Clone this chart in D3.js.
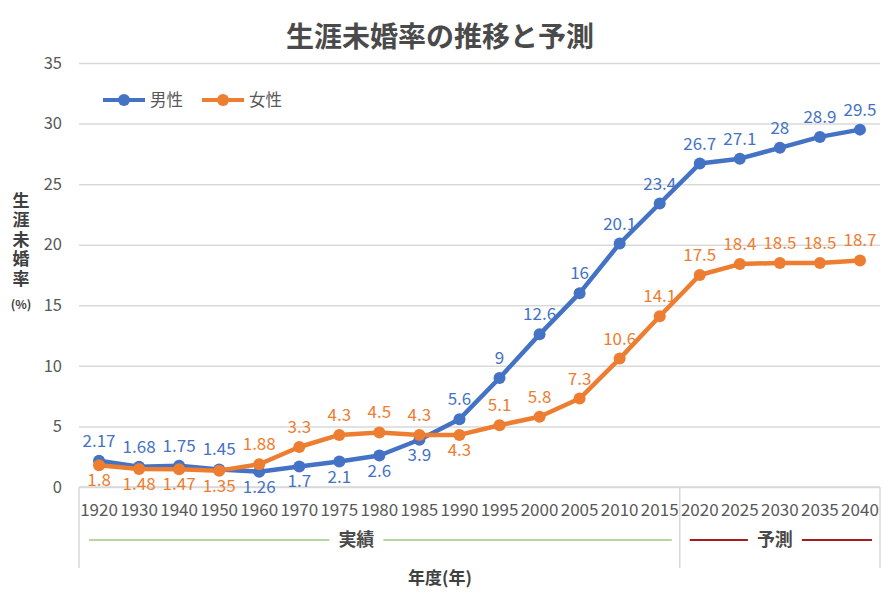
<!DOCTYPE html>
<html>
<head>
<meta charset="utf-8">
<script src="https://cdn.jsdelivr.net/npm/d3@7"></script>
<style>
  body { margin: 0; background: #fff; }
  svg text { font-family: "Noto Sans CJK JP", "Noto Sans", sans-serif; }
</style>
</head>
<body>
<svg id="chart" width="889" height="606"></svg>
<script>
const years = ['1920','1930','1940','1950','1960','1970','1975','1980','1985','1990',
               '1995','2000','2005','2010','2015','2020','2025','2030','2035','2040'];
const male   = [2.17,1.68,1.75,1.45,1.26,1.7,2.1,2.6,3.9,5.6,9,12.6,16,20.1,23.4,26.7,27.1,28,28.9,29.5];
const female = [1.8,1.48,1.47,1.35,1.88,3.3,4.3,4.5,4.3,4.3,5.1,5.8,7.3,10.6,14.1,17.5,18.4,18.5,18.5,18.7];
const yTicks = [0,5,10,15,20,25,30,35];
// which labels go under the marker
const maleBelow   = ['1960','1970','1975','1980','1985'];
const femaleBelow = ['1920','1930','1940','1950','1990'];
const periods = [{name:'実績', from:'1920', to:'2015', color:'#70ad47', shift:-24, w:1.2},
                 {name:'予測', from:'2020', to:'2040', color:'#a31d1d', shift:-6, w:2}];

const margin = {left: 79, right: 9, top: 63, bottom: 119};
const width = 889, height = 606;

const svg = d3.select('#chart');

const x = d3.scaleBand().domain(years).range([margin.left, width - margin.right]).padding(0);
const y = d3.scaleLinear().domain([0,35]).range([height - margin.bottom, margin.top]);

// title
svg.append('text')
  .attr('x', 440).attr('y', 47)
  .attr('text-anchor','middle')
  .attr('font-size', 28).attr('font-weight','bold')
  .attr('fill','#4a4a4a')
  .text('生涯未婚率の推移と予測');

// gridlines + y ticks
const yAxis = svg.append('g')
  .attr('transform', `translate(${margin.left},0)`)
  .call(d3.axisLeft(y).tickValues(yTicks).tickSize(-(width - margin.left - margin.right)).tickPadding(17))
yAxis.select('.domain').remove();
yAxis.selectAll('line').attr('stroke','#d9d9d9').attr('stroke-width',1.5);
yAxis.selectAll('text').attr('font-size',16.5).attr('fill','#595959')
  .attr('font-family','"Noto Sans CJK JP", sans-serif');

// x axis categories
svg.selectAll('.yr')
  .data(years)
  .join('text')
  .attr('class','yr')
  .attr('x', d => x(d) + x.bandwidth()/2)
  .attr('y', 516)
  .attr('text-anchor','middle')
  .attr('font-size',17)
  .attr('fill','#595959')
  .text(d => d);

// separators under the axis
const sepX = [x('1920'), x('2020'), x('2040') + x.bandwidth()];
svg.selectAll('.sep')
  .data(sepX)
  .join('line')
  .attr('x1', d => d).attr('x2', d => d)
  .attr('y1', y(0)).attr('y2', 568)
  .attr('stroke','#d9d9d9').attr('stroke-width',1.5);

// period labels with lines
periods.forEach(p => {
  const x0 = x(p.from) + 10, x1 = x(p.to) + x.bandwidth() - 8;
  const cx = (x0 + x1) / 2 + p.shift;
  const g = svg.append('g');
  g.append('line').attr('x1', x0).attr('x2', cx - 27).attr('y1',540).attr('y2',540)
    .attr('stroke', p.color).attr('stroke-width', p.w);
  g.append('line').attr('x1', cx + 27).attr('x2', x1).attr('y1',540).attr('y2',540)
    .attr('stroke', p.color).attr('stroke-width', p.w);
  g.append('text').attr('x', cx).attr('y', 546)
    .attr('text-anchor','middle').attr('font-size',18).attr('font-weight','bold')
    .attr('fill','#4a4a4a').text(p.name);
});

// x axis line
svg.append('line')
  .attr('x1', margin.left).attr('x2', width - margin.right)
  .attr('y1', y(0)).attr('y2', y(0))
  .attr('stroke','#d9d9d9').attr('stroke-width',1.5);

// x axis title
svg.append('text')
  .attr('x', 440).attr('y', 584)
  .attr('text-anchor','middle')
  .attr('font-size',17).attr('font-weight','bold').attr('fill','#404040')
  .text('年度(年)');

// y axis title (vertical)
svg.append('text')
  .attr('x', 21).attr('y', 192)
  .attr('writing-mode','vertical-rl')
  .attr('text-orientation','upright')
  .attr('letter-spacing', 2.5)
  .attr('font-size',17).attr('font-weight','bold').attr('fill','#404040')
  .text('生涯未婚率');
svg.append('text')
  .attr('x', 21).attr('y', 309)
  .attr('text-anchor','middle')
  .attr('font-size',12).attr('font-weight','bold').attr('fill','#404040')
  .text('(%)');

// series
const series = [
  {name:'男性', values: male, color:'#4472c4', below: maleBelow},
  {name:'女性', values: female, color:'#ed7d31', below: femaleBelow}
];

const line = d3.line()
  .x((d,i) => x(years[i]) + x.bandwidth()/2)
  .y(d => y(d));

series.forEach(s => {
  svg.append('path')
    .datum(s.values)
    .attr('fill','none')
    .attr('stroke', s.color)
    .attr('stroke-width', 4.5)
    .attr('stroke-linejoin','round')
    .attr('d', line);

  svg.selectAll(null)
    .data(s.values)
    .join('circle')
    .attr('cx', (d,i) => x(years[i]) + x.bandwidth()/2)
    .attr('cy', d => y(d))
    .attr('r', 6)
    .attr('fill', s.color);
});

// data labels drawn on top
series.forEach(s => {
  svg.selectAll(null)
    .data(s.values)
    .join('text')
    .attr('x', (d,i) => x(years[i]) + x.bandwidth()/2)
    .attr('y', (d,i) => y(d) + (s.below.includes(years[i]) ? 21 : -14))
    .attr('text-anchor','middle')
    .attr('font-size',17)
    .attr('fill', s.color)
    .text(d => d);
});

// legend
const legend = svg.append('g').attr('transform','translate(103,100)');
series.forEach((s,i) => {
  const lg = legend.append('g').attr('transform', `translate(${i*99},0)`);
  lg.append('line').attr('x1',0).attr('x2',42).attr('y1',0).attr('y2',0)
    .attr('stroke', s.color).attr('stroke-width',4);
  lg.append('circle').attr('cx',21).attr('cy',0).attr('r',6).attr('fill', s.color);
  lg.append('text').attr('x',47).attr('y',6)
    .attr('font-size',16.5).attr('fill','#595959').text(s.name);
});
</script>
</body>
</html>
